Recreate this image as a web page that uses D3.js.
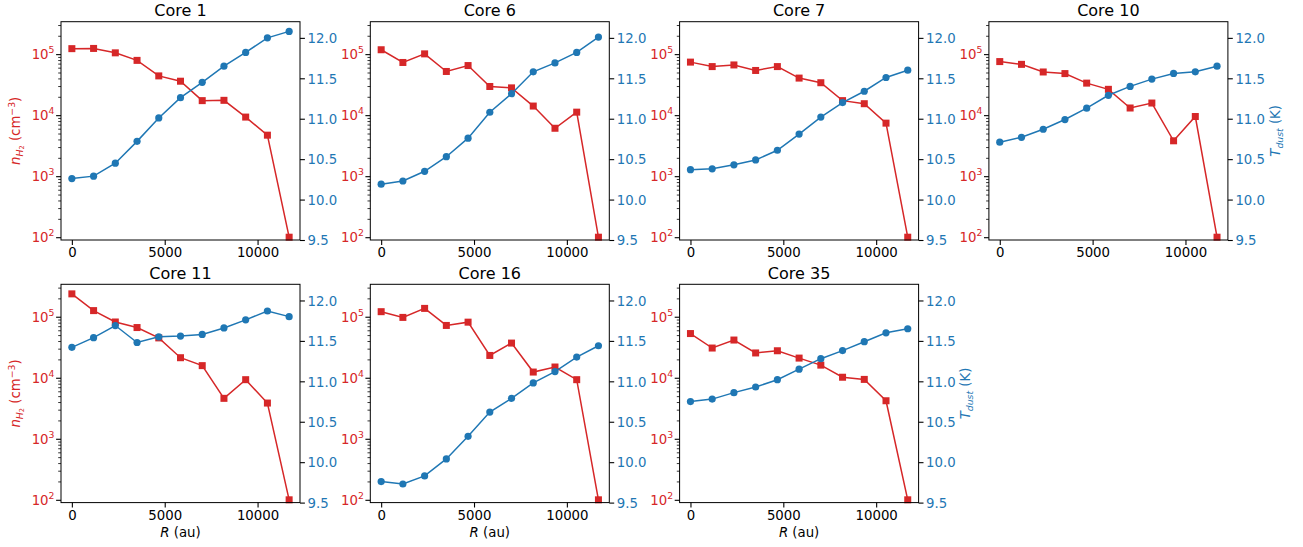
<!DOCTYPE html>
<html>
<head>
<meta charset="utf-8">
<script src="https://cdn.jsdelivr.net/npm/d3@7"></script>
<style>
  body { margin: 0; background: #fff; }
  svg { display: block; font-family: "DejaVu Sans", sans-serif; }
</style>
</head>
<body>
<svg id="chart" width="1303" height="547"></svg>
<script>
// Radial profiles of H2 density and dust temperature for each core
const radiusAu = [0, 1170, 2340, 3510, 4680, 5850, 7020, 8190, 9360, 10530, 11700];
const coreNames = ["Core 1", "Core 6", "Core 7", "Core 10", "Core 11", "Core 16", "Core 35"];

const densityCore1  = [1.23e5, 1.24e5, 1.05e5, 7.9e4, 4.4e4, 3.6e4, 1.73e4, 1.75e4, 9.3e3, 4.7e3, 100];
const densityCore6  = [1.18e5, 7.3e4, 1.01e5, 5.2e4, 6.5e4, 2.95e4, 2.8e4, 1.41e4, 6.1e3, 1.12e4, 100];
const densityCore7  = [7.4e4, 6.25e4, 6.65e4, 5.4e4, 6.25e4, 4.05e4, 3.4e4, 1.73e4, 1.54e4, 7.4e3, 100];
const densityCore10 = [7.55e4, 6.8e4, 5.1e4, 4.8e4, 3.35e4, 2.65e4, 1.31e4, 1.58e4, 3.8e3, 9.5e3, 100];
const densityCore11 = [2.37e5, 1.26e5, 8.2e4, 6.65e4, 4.5e4, 2.13e4, 1.58e4, 4.6e3, 9.3e3, 3.85e3, 100];
const densityCore16 = [1.21e5, 9.75e4, 1.37e5, 7.2e4, 8.15e4, 2.32e4, 3.7e4, 1.24e4, 1.5e4, 9.3e3, 100];
const densityCore35 = [5.3e4, 3.07e4, 4.15e4, 2.55e4, 2.77e4, 2.1e4, 1.61e4, 1.02e4, 9.4e3, 4.2e3, 100];

const tdustCore1  = [10.26, 10.29, 10.45, 10.72, 11.01, 11.26, 11.45, 11.65, 11.82, 12.00, 12.08];
const tdustCore6  = [10.19, 10.23, 10.35, 10.53, 10.76, 11.08, 11.31, 11.58, 11.69, 11.82, 12.01];
const tdustCore7  = [10.37, 10.38, 10.43, 10.49, 10.61, 10.81, 11.02, 11.20, 11.34, 11.51, 11.60];
const tdustCore10 = [10.71, 10.77, 10.87, 10.99, 11.13, 11.29, 11.40, 11.49, 11.56, 11.58, 11.65];
const tdustCore11 = [11.42, 11.54, 11.69, 11.48, 11.55, 11.56, 11.58, 11.66, 11.76, 11.87, 11.80];
const tdustCore16 = [9.76, 9.73, 9.83, 10.04, 10.32, 10.62, 10.79, 10.98, 11.12, 11.30, 11.44];
const tdustCore35 = [10.75, 10.78, 10.86, 10.93, 11.02, 11.15, 11.28, 11.38, 11.49, 11.60, 11.65];

const densityTicks = [1e2, 1e3, 1e4, 1e5];
const tdustTicks = [9.5, 10.0, 10.5, 11.0, 11.5, 12.0];
const radiusTicks = [0, 5000, 10000];

const densitySeries = [densityCore1, densityCore6, densityCore7, densityCore10, densityCore11, densityCore16, densityCore35];
const tdustSeries = [tdustCore1, tdustCore6, tdustCore7, tdustCore10, tdustCore11, tdustCore16, tdustCore35];

const RED = "#d62728", BLUE = "#1f77b4";
const panelW = 239, panelH = 218.3;
const colX = c => 61 + c * 309.3;
const rowY = [21.7, 284.3];
const tickFont = 13.3, labelFont = 13.3;

const x = d3.scaleLinear().domain([-585, 12285]).range([0, panelW]);
const yN = d3.scaleLog().domain([90, 3.4e5]).range([panelH, 0]);
const yT = d3.scaleLinear().domain([9.5, 12.2]).range([panelH, 0]);

const minorDensity = [];
for (let k = 1; k <= 5; k++) for (let m = 2; m <= 9; m++) {
  const v = m * Math.pow(10, k);
  if (v > yN.domain()[0] && v < yN.domain()[1]) minorDensity.push(v);
}

const svg = d3.select("#chart");

coreNames.forEach((name, i) => {
  const row = Math.floor(i / 4), col = i % 4;
  const g = svg.append("g").attr("transform", `translate(${colX(col)},${rowY[row]})`);
  const nVals = densitySeries[i], tVals = tdustSeries[i];

  // density profile (left, log axis)
  g.append("path")
    .attr("d", d3.line().x((d, j) => x(radiusAu[j])).y(d => yN(d))(nVals))
    .attr("fill", "none").attr("stroke", RED).attr("stroke-width", 1.5);
  g.selectAll(".sq").data(nVals).join("rect")
    .attr("x", (d, j) => x(radiusAu[j]) - 3.5).attr("y", d => yN(d) - 3.5)
    .attr("width", 7).attr("height", 7).attr("fill", RED);

  // dust temperature profile (right axis)
  g.append("path")
    .attr("d", d3.line().x((d, j) => x(radiusAu[j])).y(d => yT(d))(tVals))
    .attr("fill", "none").attr("stroke", BLUE).attr("stroke-width", 1.5);
  g.selectAll(".dot").data(tVals).join("circle")
    .attr("cx", (d, j) => x(radiusAu[j])).attr("cy", d => yT(d))
    .attr("r", 3.6).attr("fill", BLUE);

  // frame
  g.append("rect").attr("width", panelW).attr("height", panelH)
    .attr("fill", "none").attr("stroke", "#000").attr("stroke-width", 1);

  // bottom axis
  const xa = g.append("g").attr("transform", `translate(0,${panelH})`)
    .call(d3.axisBottom(x).tickValues(radiusTicks).tickSize(4.9).tickSizeOuter(0).tickPadding(3).tickFormat(d3.format("d")));
  xa.select(".domain").remove();
  xa.selectAll("line").attr("stroke", "#000").attr("stroke-width", 1.1);
  xa.selectAll("text").attr("font-size", tickFont).attr("fill", "#000")
    .attr("font-family", "DejaVu Sans").attr("dy", null).attr("y", 17.4);

  // left log axis
  const la = g.append("g")
    .call(d3.axisLeft(yN).tickValues(densityTicks).tickSize(4.9).tickSizeOuter(0).tickFormat(() => ""));
  la.select(".domain").remove();
  la.selectAll("line").attr("stroke", "#000").attr("stroke-width", 1.1);
  la.selectAll("text").remove();
  const lm = g.append("g")
    .call(d3.axisLeft(yN).tickValues(minorDensity).tickSize(2.8).tickSizeOuter(0).tickFormat(() => ""));
  lm.select(".domain").remove();
  lm.selectAll("line").attr("stroke", "#000").attr("stroke-width", 0.8);
  lm.selectAll("text").remove();
  densityTicks.forEach(v => {
    const t = g.append("text").attr("x", -6.5).attr("y", yN(v) + 4.8)
      .attr("text-anchor", "end").attr("fill", RED).attr("font-size", tickFont);
    t.append("tspan").text("10");
    t.append("tspan").attr("font-size", tickFont * 0.7).attr("dy", -6)
      .text(String(Math.round(Math.log10(v))));
  });

  // right temperature axis
  const ra = g.append("g").attr("transform", `translate(${panelW},0)`)
    .call(d3.axisRight(yT).tickValues(tdustTicks).tickSize(4.9).tickSizeOuter(0).tickPadding(3).tickFormat(d3.format(".1f")));
  ra.select(".domain").remove();
  ra.selectAll("line").attr("stroke", "#000").attr("stroke-width", 1.1);
  ra.selectAll("text").attr("font-size", tickFont).attr("fill", BLUE)
    .attr("font-family", "DejaVu Sans").attr("dy", null).attr("dominant-baseline", null)
    .attr("transform", "translate(0,4.8)").attr("x", 7.5);

  // title
  g.append("text").attr("x", panelW / 2).attr("y", -5.3).attr("text-anchor", "middle")
    .attr("font-size", 16).attr("fill", "#000").text(name);

  // left axis label on first column
  if (col === 0) {
    const yl = g.append("text")
      .attr("transform", `translate(${15 - colX(col)},${panelH / 2}) rotate(-90)`)
      .attr("text-anchor", "middle").attr("fill", RED).attr("font-size", labelFont).attr("dy", "0.35em");
    yl.append("tspan").attr("font-style", "italic").text("n");
    yl.append("tspan").attr("font-style", "italic").attr("font-size", labelFont * 0.7).attr("dy", 3).text("H");
    yl.append("tspan").attr("font-size", labelFont * 0.5).attr("dy", 1.8).text("2");
    yl.append("tspan").attr("dy", -4.8).text(" (cm");
    yl.append("tspan").attr("font-size", labelFont * 0.7).attr("dy", -5).text("\u22123");
    yl.append("tspan").attr("dy", 5).text(")");
  }

  // right axis label on last panel of each row
  if (i === 3 || i === coreNames.length - 1) {
    const tl = g.append("text")
      .attr("transform", `translate(${panelW + 47},${panelH / 2}) rotate(-90)`)
      .attr("text-anchor", "middle").attr("fill", BLUE).attr("font-size", labelFont).attr("dy", "0.35em");
    tl.append("tspan").attr("font-style", "italic").text("T");
    tl.append("tspan").attr("font-style", "italic").attr("font-size", labelFont * 0.7).attr("dy", 3).text("dust");
    tl.append("tspan").attr("dy", -3).text(" (K)");
  }

  // x label on bottom row
  if (row === 1) {
    const xl = g.append("text").attr("x", panelW / 2).attr("y", panelH + 34)
      .attr("text-anchor", "middle").attr("fill", "#000").attr("font-size", labelFont);
    xl.append("tspan").attr("font-style", "italic").text("R");
    xl.append("tspan").text(" (au)");
  }
});
</script>
</body>
</html>
